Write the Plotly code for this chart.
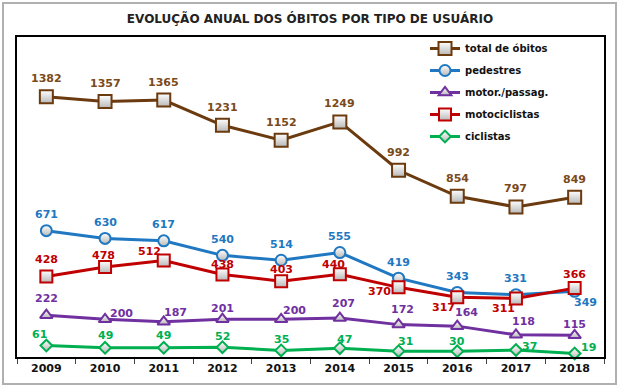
import plotly.graph_objects as go

years = ["2009", "2010", "2011", "2012", "2013", "2014", "2015", "2016", "2017", "2018"]
total = [1382, 1357, 1365, 1231, 1152, 1249, 992, 854, 797, 849]
pedestres = [671, 630, 617, 540, 514, 555, 419, 343, 331, 349]
motor = [222, 200, 187, 201, 200, 207, 172, 164, 118, 115]
moto = [428, 478, 512, 438, 403, 440, 370, 317, 311, 366]
ciclistas = [61, 49, 49, 52, 35, 47, 31, 30, 37, 19]

# label offsets (pixels, dx right, dy down) from the point
off_total = [(0, -18)] * 10
off_ped = [(0, -16)] * 9 + [(11, 11)]
off_motor = [(0, -17), (16, -6), (12, -9), (0, -11), (13, -9), (4, -15), (4, -15),
             (9, -14), (8, -13), (0, -11)]
off_moto = [(0, -17), (-2, -12), (-14, -9), (0, -10), (0, -12), (-6, -10), (-19, 4),
            (-14, 10), (-12, 10), (0, -14)]
off_cic = [(-7, -11), (0, -12), (0, -12), (0, -11), (0, -11), (5, -9), (7, -10),
           (0, -10), (14, -4), (14, -6)]

FONT = "DejaVu Sans"

series = [
    ("total de óbitos", total, off_total, "#6B3A0E", "#7A4A1A", "square", 13),
    ("pedestres", pedestres, off_ped, "#1F78C1", "#1F78C1", "circle", 11),
    ("motor./passag.", motor, off_motor, "#7030A0", "#7030A0", "triangle-up", 11),
    ("motociclistas", moto, off_moto, "#C00000", "#C00000", "square", 12),
    ("ciclistas", ciclistas, off_cic, "#00B050", "#00B050", "diamond", 9),
]

fig = go.Figure()
annotations = []
for i, (name, vals, offs, lc, tc, sym, ms) in enumerate(series):
    fig.add_trace(go.Scatter(
        x=years, y=vals, name=name, mode="lines+markers",
        line=dict(color=lc, width=3),
        marker=dict(symbol=sym, size=ms, color="white",
                    gradient=dict(type="vertical", color="#B8B8B8"),
                    line=dict(color=lc, width=2)),
        legendgroup=f"g{i}",
        cliponaxis=False,
    ))
    for k, (yv, (dx, dy)) in enumerate(zip(vals, offs)):
        annotations.append(dict(
            x=k, y=yv, xref="x", yref="y", text=str(yv), showarrow=False,
            xshift=dx, yshift=-dy, xanchor="center", yanchor="middle",
            font=dict(family=FONT, size=11, color=tc, weight="bold"),
        ))

W, H = 620, 388
L, R, T, B = 17, 16, 37, 31
pw, ph = W - L - R, H - T - B

fig.update_layout(
    width=W, height=H,
    margin=dict(l=L, r=R, t=T, b=B),
    paper_bgcolor="white", plot_bgcolor="white",
    title=dict(text="<b>EVOLUÇÃO ANUAL DOS ÓBITOS POR TIPO DE USUÁRIO</b>",
               x=0.5, xanchor="center", y=1 - 19 / H, yanchor="middle",
               font=dict(family=FONT, size=12, color="#222222")),
    showlegend=True,
    legend=dict(x=(425 - L) / pw, y=1 + 3 / ph, xanchor="left", yanchor="top",
                bgcolor="rgba(0,0,0,0)", traceorder="grouped", tracegroupgap=3,
                font=dict(family=FONT, size=10, color="#111111", weight="bold"),
                itemwidth=30),
    xaxis=dict(type="category", range=[-0.5, 9.5], showline=True, mirror=True,
               linecolor="black", linewidth=1.5, showgrid=False, ticks="outside",
               tickson="boundaries", ticklen=5, tickcolor="#444444",
               tickfont=dict(family=FONT, size=11, color="#111111", weight="bold")),
    yaxis=dict(range=[0, 1700], showline=True, mirror=True, linecolor="black",
               linewidth=1.5, showgrid=False, showticklabels=False, ticks="",
               zeroline=False),
    annotations=annotations,
    shapes=[dict(type="rect", xref="paper", yref="paper",
                 x0=(3 - L) / pw, x1=(616 - L) / pw,
                 y0=(H - B - 384) / ph, y1=(H - B - 3) / ph,
                 line=dict(color="#B0B0B0", width=2), layer="below")],
)

fig.write_html("out.html", config={"displayModeBar": False},
               post_script="document.body.style.margin='0';")
